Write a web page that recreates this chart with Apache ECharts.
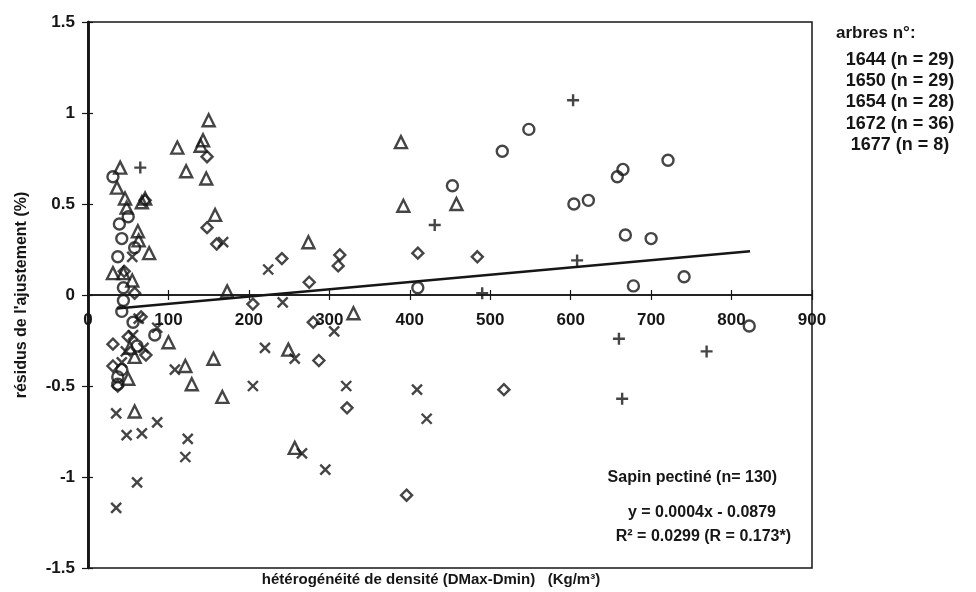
<!DOCTYPE html>
<html><head><meta charset="utf-8">
<script src="https://cdn.jsdelivr.net/npm/echarts@6/dist/echarts.min.js"></script>
<style>html,body{margin:0;padding:0;background:#fff}#c{width:976px;height:592px}</style>
</head><body><div id="c"></div>
<script>
// ---- data ----
const xMin = 0, xMax = 900, xStep = 100;
const yMin = -1.5, yMax = 1.5, yStep = 0.5;

const legendTitle = 'arbres n°:';
const treeNames = ['1644 (n = 29)', '1650 (n = 29)', '1654 (n = 28)', '1672 (n = 36)', '1677 (n = 8)'];

// circles
const tree1644 = [[548,0.91],[515,0.79],[721,0.74],[665,0.69],[658,0.65],[604,0.50],[622,0.52],[453,0.60],
  [668,0.33],[700,0.31],[741,0.10],[678,0.05],[410,0.04],[822,-0.17],
  [31,0.65],[39,0.39],[50,0.43],[42,0.31],[58,0.26],[37,0.21],[44,0.04],[44,-0.03],[42,-0.09],
  [56,-0.15],[83,-0.22],[61,-0.28],[42,-0.41],[37,-0.45],[37,-0.49]];
// diamonds
const tree1650 = [[241,0.20],[313,0.22],[311,0.16],[275,0.07],[410,0.23],[484,0.21],[287,-0.36],[322,-0.62],
  [517,-0.52],[396,-1.10],[280,-0.15],[205,-0.05],[58,0.01],[31,-0.27],[31,-0.39],[37,-0.50],[148,0.37],
  [160,0.28],[148,0.76],[71,0.52],[66,-0.12],[50,-0.23],[72,-0.33],[45,0.13]];
// crosses
const tree1654 = [[224,0.14],[168,0.29],[55,0.21],[242,-0.04],[220,-0.29],[205,-0.50],[86,-0.18],[69,-0.29],
  [56,-0.22],[42,-0.37],[108,-0.41],[35,-0.65],[48,-0.77],[67,-0.76],[86,-0.70],[124,-0.79],[121,-0.89],
  [61,-1.03],[35,-1.17],[306,-0.20],[257,-0.35],[321,-0.50],[409,-0.52],[421,-0.68],[266,-0.87],[295,-0.96],
  [63,-0.13],[47,-0.31]];
// triangles
const tree1672 = [[389,0.84],[392,0.49],[458,0.50],[274,0.29],[150,0.96],[111,0.81],[143,0.85],[140,0.82],
  [122,0.68],[147,0.64],[158,0.44],[40,0.70],[36,0.59],[46,0.53],[71,0.53],[67,0.51],[48,0.48],[62,0.35],
  [63,0.30],[76,0.23],[31,0.12],[44,0.12],[55,0.08],[173,0.02],[100,-0.26],[121,-0.39],[156,-0.35],
  [129,-0.49],[167,-0.56],[58,-0.64],[50,-0.46],[58,-0.34],[52,-0.29],[330,-0.10],[249,-0.30],[257,-0.84]];
// plus signs
const tree1677 = [[65,0.70],[603,1.07],[431,0.385],[608,0.19],[490,0.01],[660,-0.24],[769,-0.31],[664,-0.57]];

// regression line end points
const regression = [[36,-0.074],[823,0.241]];

const yTitle = "résidus de l'ajustement (%)";
const xTitle = 'hétérogénéité de densité (DMax-Dmin)   (Kg/m³)';
const noteLines = ['Sapin pectiné (n= 130)', 'y = 0.0004x - 0.0879', 'R² = 0.0299 (R = 0.173*)'];

// ---- chart ----
const INK = '#161616';
const FONT = '"Liberation Sans", Arial, sans-serif';
const GRID_TOP = 22, GRID_BOTTOM = 24, H = 592;
const plotH = H - GRID_TOP - GRID_BOTTOM;
// distance from the bottom edge of the plot to the y = 0 line, so the x axis sits on zero
const zeroOffset = -plotH * (0 - yMin) / (yMax - yMin);

const chart = echarts.init(document.getElementById('c'), null, {renderer: 'canvas'});

const markerStyle = {color: 'rgba(0,0,0,0)', borderColor: INK, borderWidth: 2.4};
function scatter(name, data, symbol, size) {
  return {name, type: 'scatter', data, symbol, symbolSize: size, itemStyle: markerStyle,
    emphasis: {disabled: true}, z: 3};
}
const labelStyle = {color: INK, fontFamily: FONT, fontWeight: 'bold', fontSize: 17};
const tickStyle = {color: INK, width: 1.2};

const baseX = {type: 'value', min: xMin, max: xMax, interval: xStep, splitLine: {show: false},
  position: 'bottom', offset: zeroOffset,
  axisLine: {onZero: false, lineStyle: {color: INK, width: 1.5}}};
const baseY = {type: 'value', min: yMin, max: yMax, interval: yStep, splitLine: {show: false},
  position: 'left', axisLine: {onZero: false, lineStyle: {color: INK, width: 2.5}}};

chart.setOption({
  animation: false,
  backgroundColor: '#fff',
  grid: {left: 88, right: 164, top: GRID_TOP, bottom: GRID_BOTTOM, show: true, borderColor: INK, borderWidth: 1.5,
    backgroundColor: 'transparent', outerBoundsMode: 'none', containLabel: false},
  xAxis: [
    Object.assign({}, baseX, {
      axisTick: {show: true, inside: false, length: 5, lineStyle: tickStyle},
      axisLabel: Object.assign({margin: 17}, labelStyle)}),
    Object.assign({}, baseX, {
      axisTick: {show: true, inside: true, length: 5, lineStyle: tickStyle},
      axisLabel: {show: false}})
  ],
  yAxis: [
    Object.assign({}, baseY, {axisTick: {show: true, inside: false, length: 6, lineStyle: tickStyle},
      axisLabel: Object.assign({margin: 13}, labelStyle),
      name: yTitle, nameLocation: 'middle', nameGap: 58, nameRotate: 90,
      nameTextStyle: Object.assign({}, labelStyle, {fontSize: 16})}),
    Object.assign({}, baseY, {axisTick: {show: true, inside: true, length: 5, lineStyle: tickStyle},
      axisLabel: {show: false}})
  ],
  series: [
    scatter(treeNames[0], tree1644, 'circle', 11),
    scatter(treeNames[1], tree1650, 'diamond', 11),
    scatter(treeNames[2], tree1654, 'path://M0,0L10,10M10,0L0,10', 10),
    scatter(treeNames[3], tree1672, 'triangle', 12),
    scatter(treeNames[4], tree1677, 'path://M5,0L5,10M0,5L10,5', 12),
    {name: 'regression', type: 'line', data: regression, symbol: 'none', z: 4,
      lineStyle: {color: INK, width: 2.5}}
  ],
  graphic: [
    {type: 'text', x: 836, y: 33, style: {text: legendTitle, fill: INK, font: 'bold 17px ' + FONT,
      textAlign: 'left', textVerticalAlign: 'middle'}},
    ...treeNames.map((t, i) => ({type: 'text', x: 900, y: [60, 81, 102, 124, 145][i],
      style: {text: t, fill: INK, font: 'bold 18px ' + FONT, textAlign: 'center', textVerticalAlign: 'middle'}})),
    {type: 'text', x: 431, y: 580, style: {text: xTitle, fill: INK, font: 'bold 15px ' + FONT,
      textAlign: 'center', textVerticalAlign: 'middle'}},
    ...noteLines.map((t, i) => ({type: 'text', x: [777, 776, 791][i], y: [478, 513, 537][i],
      style: {text: t, fill: INK, font: 'bold 16px ' + FONT, textAlign: 'right', textVerticalAlign: 'middle'}}))
  ]
});
</script></body></html>
